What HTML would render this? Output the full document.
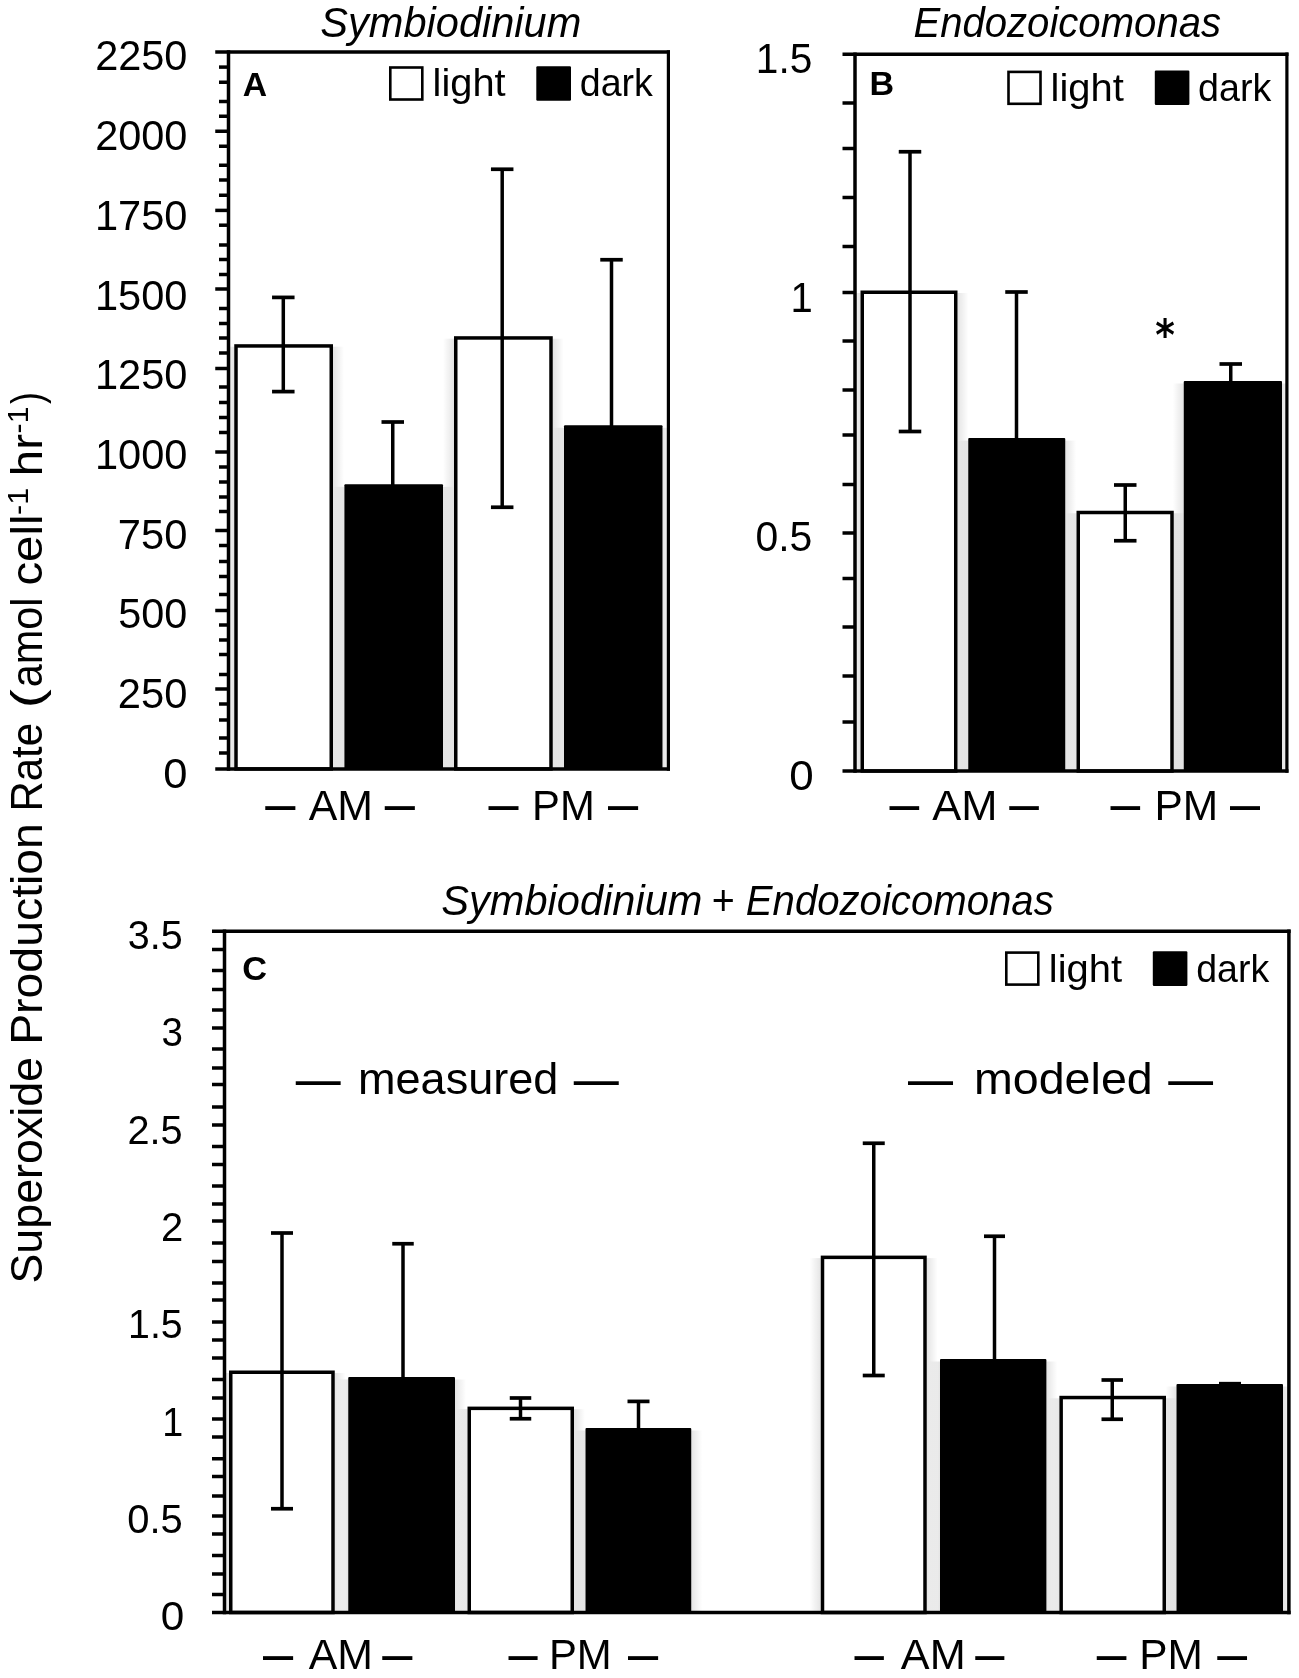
<!DOCTYPE html>
<html lang="en"><head><meta charset="utf-8"><title>Superoxide Production Rate</title>
<style>
html,body{margin:0;padding:0;background:#fff}
svg{display:block;will-change:transform;transform:translateZ(0)}
text{font-family:"Liberation Sans",sans-serif;fill:#000}
text.dj{font-family:"DejaVu Sans","Liberation Sans",sans-serif}
line{stroke:#000}
</style></head><body>
<svg width="1299" height="1678" viewBox="0 0 1299 1678">
<defs>
<linearGradient id="gr" x1="0" x2="1" y1="0" y2="0"><stop offset="0" stop-color="#000" stop-opacity="0.105"/><stop offset="1" stop-color="#000" stop-opacity="0"/></linearGradient>
<linearGradient id="gl" x1="1" x2="0" y1="0" y2="0"><stop offset="0" stop-color="#000" stop-opacity="0.105"/><stop offset="1" stop-color="#000" stop-opacity="0"/></linearGradient>
<clipPath id="clipA"><rect x="228.5" y="52" width="439.9" height="717"/></clipPath>
<clipPath id="clipB"><rect x="855" y="54" width="431.9" height="717"/></clipPath>
<clipPath id="clipC"><rect x="224.5" y="931" width="1064.4" height="681.5"/></clipPath>
</defs>
<rect width="1299" height="1678" fill="#fff"/>
<g transform="translate(42.2,1281.5) rotate(-90)">
<text x="-2.01" y="0.00" font-size="45" textLength="226.49" lengthAdjust="spacingAndGlyphs">Superoxide</text>
<text x="236.67" y="0.00" font-size="45" textLength="221.77" lengthAdjust="spacingAndGlyphs">Production</text>
<text x="470.04" y="0.00" font-size="45" textLength="88.54" lengthAdjust="spacingAndGlyphs">Rate</text>
<text x="573.24" y="0.00" font-size="45" textLength="18.98" lengthAdjust="spacingAndGlyphs">(</text>
<text x="594.14" y="0.00" font-size="45" textLength="89.86" lengthAdjust="spacingAndGlyphs">amol</text>
<text x="695.99" y="0.00" font-size="45" textLength="70.93" lengthAdjust="spacingAndGlyphs">cell</text>
<text x="766.62" y="-14.60" font-size="29" textLength="27.18" lengthAdjust="spacingAndGlyphs">-1</text>
<text x="805.30" y="0.00" font-size="45" textLength="42.19" lengthAdjust="spacingAndGlyphs">hr</text>
<text x="848.14" y="-14.60" font-size="29" textLength="26.84" lengthAdjust="spacingAndGlyphs">-1</text>
<text x="877.43" y="0.00" font-size="45" textLength="11.94" lengthAdjust="spacingAndGlyphs">)</text>
</g>
<g id="panelA">
<g clip-path="url(#clipA)"><rect x="223.25" y="346.70" width="11.0" height="422.20" fill="url(#gl)"/><rect x="333.00" y="346.70" width="11.0" height="422.20" fill="url(#gr)"/><rect x="333.40" y="486.80" width="11.0" height="282.10" fill="url(#gl)"/><rect x="443.00" y="486.80" width="11.0" height="282.10" fill="url(#gr)"/><rect x="443.00" y="338.70" width="11.0" height="430.20" fill="url(#gl)"/><rect x="552.75" y="338.70" width="11.0" height="430.20" fill="url(#gr)"/><rect x="553.00" y="427.75" width="11.0" height="341.15" fill="url(#gl)"/><rect x="662.50" y="427.75" width="11.0" height="341.15" fill="url(#gr)"/></g>
<rect x="236.00" y="345.95" width="95.25" height="422.95" fill="#fff" stroke="#000" stroke-width="3.5"/>
<rect x="344.40" y="484.30" width="98.60" height="284.60" rx="1" fill="#000"/>
<rect x="455.75" y="337.95" width="95.25" height="430.95" fill="#fff" stroke="#000" stroke-width="3.5"/>
<rect x="564.00" y="425.25" width="98.50" height="343.65" rx="1" fill="#000"/>
<line x1="283.30" y1="297.40" x2="283.30" y2="391.60" stroke-width="3.5"/>
<line x1="272.05" y1="297.40" x2="294.55" y2="297.40" stroke-width="3.7"/>
<line x1="272.05" y1="391.60" x2="294.55" y2="391.60" stroke-width="3.7"/>
<line x1="392.75" y1="422.00" x2="392.75" y2="486.00" stroke-width="3.5"/>
<line x1="381.50" y1="422.00" x2="404.00" y2="422.00" stroke-width="3.7"/>
<line x1="502.20" y1="169.25" x2="502.20" y2="507.25" stroke-width="3.5"/>
<line x1="490.95" y1="169.25" x2="513.45" y2="169.25" stroke-width="3.7"/>
<line x1="490.95" y1="507.25" x2="513.45" y2="507.25" stroke-width="3.7"/>
<line x1="611.50" y1="259.75" x2="611.50" y2="427.00" stroke-width="3.5"/>
<line x1="600.25" y1="259.75" x2="622.75" y2="259.75" stroke-width="3.7"/>
<line x1="228.50" y1="50.15" x2="228.50" y2="770.65" stroke-width="3.5"/>
<line x1="668.40" y1="50.15" x2="668.40" y2="770.65" stroke-width="3.2"/>
<line x1="215.25" y1="51.90" x2="670.00" y2="51.90" stroke-width="3.5"/>
<line x1="215.25" y1="768.90" x2="670.00" y2="768.90" stroke-width="3.5"/>
<line x1="215.25" y1="131.25" x2="228.50" y2="131.25" stroke-width="3.5"/>
<line x1="215.25" y1="210.40" x2="228.50" y2="210.40" stroke-width="3.5"/>
<line x1="215.25" y1="289.00" x2="228.50" y2="289.00" stroke-width="3.5"/>
<line x1="215.25" y1="368.50" x2="228.50" y2="368.50" stroke-width="3.5"/>
<line x1="215.25" y1="452.00" x2="228.50" y2="452.00" stroke-width="3.5"/>
<line x1="215.25" y1="530.50" x2="228.50" y2="530.50" stroke-width="3.5"/>
<line x1="215.25" y1="610.50" x2="228.50" y2="610.50" stroke-width="3.5"/>
<line x1="215.25" y1="689.00" x2="228.50" y2="689.00" stroke-width="3.5"/>
<line x1="219.00" y1="67.10" x2="228.50" y2="67.10" stroke-width="3.5"/>
<line x1="219.00" y1="82.25" x2="228.50" y2="82.25" stroke-width="3.5"/>
<line x1="219.00" y1="101.50" x2="228.50" y2="101.50" stroke-width="3.5"/>
<line x1="219.00" y1="116.25" x2="228.50" y2="116.25" stroke-width="3.5"/>
<line x1="219.00" y1="146.25" x2="228.50" y2="146.25" stroke-width="3.5"/>
<line x1="219.00" y1="165.25" x2="228.50" y2="165.25" stroke-width="3.5"/>
<line x1="219.00" y1="180.00" x2="228.50" y2="180.00" stroke-width="3.5"/>
<line x1="219.00" y1="195.25" x2="228.50" y2="195.25" stroke-width="3.5"/>
<line x1="219.00" y1="225.20" x2="228.50" y2="225.20" stroke-width="3.5"/>
<line x1="219.00" y1="245.00" x2="228.50" y2="245.00" stroke-width="3.5"/>
<line x1="219.00" y1="259.50" x2="228.50" y2="259.50" stroke-width="3.5"/>
<line x1="219.00" y1="274.50" x2="228.50" y2="274.50" stroke-width="3.5"/>
<line x1="219.00" y1="308.50" x2="228.50" y2="308.50" stroke-width="3.5"/>
<line x1="219.00" y1="323.50" x2="228.50" y2="323.50" stroke-width="3.5"/>
<line x1="219.00" y1="338.00" x2="228.50" y2="338.00" stroke-width="3.5"/>
<line x1="219.00" y1="353.00" x2="228.50" y2="353.00" stroke-width="3.5"/>
<line x1="219.00" y1="387.00" x2="228.50" y2="387.00" stroke-width="3.5"/>
<line x1="219.00" y1="402.50" x2="228.50" y2="402.50" stroke-width="3.5"/>
<line x1="219.00" y1="417.50" x2="228.50" y2="417.50" stroke-width="3.5"/>
<line x1="219.00" y1="432.50" x2="228.50" y2="432.50" stroke-width="3.5"/>
<line x1="219.00" y1="467.00" x2="228.50" y2="467.00" stroke-width="3.5"/>
<line x1="219.00" y1="482.00" x2="228.50" y2="482.00" stroke-width="3.5"/>
<line x1="219.00" y1="497.00" x2="228.50" y2="497.00" stroke-width="3.5"/>
<line x1="219.00" y1="511.50" x2="228.50" y2="511.50" stroke-width="3.5"/>
<line x1="219.00" y1="545.50" x2="228.50" y2="545.50" stroke-width="3.5"/>
<line x1="219.00" y1="561.50" x2="228.50" y2="561.50" stroke-width="3.5"/>
<line x1="219.00" y1="576.50" x2="228.50" y2="576.50" stroke-width="3.5"/>
<line x1="219.00" y1="594.50" x2="228.50" y2="594.50" stroke-width="3.5"/>
<line x1="219.00" y1="625.00" x2="228.50" y2="625.00" stroke-width="3.5"/>
<line x1="219.00" y1="640.00" x2="228.50" y2="640.00" stroke-width="3.5"/>
<line x1="219.00" y1="654.50" x2="228.50" y2="654.50" stroke-width="3.5"/>
<line x1="219.00" y1="674.50" x2="228.50" y2="674.50" stroke-width="3.5"/>
<line x1="219.00" y1="704.00" x2="228.50" y2="704.00" stroke-width="3.5"/>
<line x1="219.00" y1="720.00" x2="228.50" y2="720.00" stroke-width="3.5"/>
<line x1="219.00" y1="738.00" x2="228.50" y2="738.00" stroke-width="3.5"/>
<line x1="219.00" y1="753.00" x2="228.50" y2="753.00" stroke-width="3.5"/>
<text x="95.13" y="70.40" font-size="42.5" textLength="92.32" lengthAdjust="spacingAndGlyphs">2250</text>
<text x="95.13" y="150.10" font-size="42.5" textLength="92.32" lengthAdjust="spacingAndGlyphs">2000</text>
<text x="94.98" y="229.80" font-size="42.5" textLength="92.47" lengthAdjust="spacingAndGlyphs">1750</text>
<text x="94.98" y="309.50" font-size="42.5" textLength="92.47" lengthAdjust="spacingAndGlyphs">1500</text>
<text x="94.98" y="389.20" font-size="42.5" textLength="92.47" lengthAdjust="spacingAndGlyphs">1250</text>
<text x="94.98" y="468.90" font-size="42.5" textLength="92.47" lengthAdjust="spacingAndGlyphs">1000</text>
<text x="117.81" y="548.60" font-size="42.5" textLength="69.59" lengthAdjust="spacingAndGlyphs">750</text>
<text x="118.24" y="628.30" font-size="42.5" textLength="69.15" lengthAdjust="spacingAndGlyphs">500</text>
<text x="117.81" y="708.00" font-size="42.5" textLength="69.59" lengthAdjust="spacingAndGlyphs">250</text>
<text x="163.27" y="787.70" font-size="42.5" textLength="24.22" lengthAdjust="spacingAndGlyphs">0</text>
<text x="320.36" y="36.50" font-size="41.7" font-style="italic" textLength="260.93" lengthAdjust="spacingAndGlyphs">Symbiodinium</text>
<text x="242.66" y="95.60" font-size="33.5" font-weight="bold" textLength="24.36" lengthAdjust="spacingAndGlyphs">A</text>
<rect x="390.3" y="67.5" width="32.0" height="32.0" fill="#fff" stroke="#000" stroke-width="2.6"/>
<text x="432.61" y="96.30" font-size="38.7" textLength="73.07" lengthAdjust="spacingAndGlyphs">light</text>
<rect x="536.3" y="66.2" width="34.7" height="34.6" rx="1.2" fill="#000"/>
<text x="579.80" y="96.30" font-size="38.7" textLength="73.11" lengthAdjust="spacingAndGlyphs">dark</text>
<text x="265.20" y="823.16" font-size="57.78" textLength="30.10" lengthAdjust="spacingAndGlyphs">—</text>
<text x="308.79" y="819.90" font-size="42.0" textLength="64.23" lengthAdjust="spacingAndGlyphs">AM</text>
<text x="384.80" y="823.16" font-size="57.78" textLength="30.10" lengthAdjust="spacingAndGlyphs">—</text>
<text x="488.60" y="823.16" font-size="57.78" textLength="30.00" lengthAdjust="spacingAndGlyphs">—</text>
<text x="532.05" y="819.90" font-size="42.0" textLength="62.69" lengthAdjust="spacingAndGlyphs">PM</text>
<text x="608.00" y="823.16" font-size="57.78" textLength="30.10" lengthAdjust="spacingAndGlyphs">—</text>
</g>
<g id="panelB">
<g clip-path="url(#clipB)"><rect x="849.50" y="293.00" width="11.0" height="478.00" fill="url(#gl)"/><rect x="957.50" y="293.00" width="11.0" height="478.00" fill="url(#gr)"/><rect x="957.25" y="440.60" width="11.0" height="330.40" fill="url(#gl)"/><rect x="1065.25" y="440.60" width="11.0" height="330.40" fill="url(#gr)"/><rect x="1065.50" y="513.25" width="11.0" height="257.75" fill="url(#gl)"/><rect x="1173.75" y="513.25" width="11.0" height="257.75" fill="url(#gr)"/><rect x="1172.75" y="383.50" width="11.0" height="387.50" fill="url(#gl)"/><rect x="1282.00" y="383.50" width="11.0" height="387.50" fill="url(#gr)"/></g>
<rect x="862.25" y="292.25" width="93.50" height="478.75" fill="#fff" stroke="#000" stroke-width="3.5"/>
<rect x="968.25" y="438.10" width="97.00" height="332.90" rx="1" fill="#000"/>
<rect x="1078.25" y="512.50" width="93.75" height="258.50" fill="#fff" stroke="#000" stroke-width="3.5"/>
<rect x="1183.75" y="381.00" width="98.25" height="390.00" rx="1" fill="#000"/>
<line x1="910.00" y1="151.75" x2="910.00" y2="431.50" stroke-width="3.5"/>
<line x1="898.75" y1="151.75" x2="921.25" y2="151.75" stroke-width="3.7"/>
<line x1="898.75" y1="431.50" x2="921.25" y2="431.50" stroke-width="3.7"/>
<line x1="1016.50" y1="292.00" x2="1016.50" y2="440.00" stroke-width="3.5"/>
<line x1="1005.25" y1="292.00" x2="1027.75" y2="292.00" stroke-width="3.7"/>
<line x1="1125.25" y1="485.00" x2="1125.25" y2="540.75" stroke-width="3.5"/>
<line x1="1114.00" y1="485.00" x2="1136.50" y2="485.00" stroke-width="3.7"/>
<line x1="1114.00" y1="540.75" x2="1136.50" y2="540.75" stroke-width="3.7"/>
<line x1="1230.75" y1="364.00" x2="1230.75" y2="383.00" stroke-width="3.5"/>
<line x1="1219.50" y1="364.00" x2="1242.00" y2="364.00" stroke-width="3.7"/>
<line x1="855.00" y1="52.45" x2="855.00" y2="772.75" stroke-width="3.5"/>
<line x1="1286.90" y1="52.45" x2="1286.90" y2="772.75" stroke-width="3.2"/>
<line x1="842.50" y1="54.20" x2="1288.50" y2="54.20" stroke-width="3.5"/>
<line x1="842.50" y1="771.00" x2="1288.50" y2="771.00" stroke-width="3.5"/>
<line x1="842.50" y1="103.00" x2="855.00" y2="103.00" stroke-width="3.5"/>
<line x1="842.50" y1="148.50" x2="855.00" y2="148.50" stroke-width="3.5"/>
<line x1="842.50" y1="197.50" x2="855.00" y2="197.50" stroke-width="3.5"/>
<line x1="842.50" y1="246.50" x2="855.00" y2="246.50" stroke-width="3.5"/>
<line x1="842.50" y1="292.50" x2="855.00" y2="292.50" stroke-width="3.5"/>
<line x1="842.50" y1="341.00" x2="855.00" y2="341.00" stroke-width="3.5"/>
<line x1="842.50" y1="390.00" x2="855.00" y2="390.00" stroke-width="3.5"/>
<line x1="842.50" y1="435.00" x2="855.00" y2="435.00" stroke-width="3.5"/>
<line x1="842.50" y1="484.50" x2="855.00" y2="484.50" stroke-width="3.5"/>
<line x1="842.50" y1="533.00" x2="855.00" y2="533.00" stroke-width="3.5"/>
<line x1="842.50" y1="578.50" x2="855.00" y2="578.50" stroke-width="3.5"/>
<line x1="842.50" y1="627.00" x2="855.00" y2="627.00" stroke-width="3.5"/>
<line x1="842.50" y1="676.00" x2="855.00" y2="676.00" stroke-width="3.5"/>
<line x1="842.50" y1="722.00" x2="855.00" y2="722.00" stroke-width="3.5"/>
<text x="755.85" y="72.80" font-size="42.5" textLength="56.48" lengthAdjust="spacingAndGlyphs">1.5</text>
<text x="790.40" y="311.77" font-size="42.5" textLength="22.25" lengthAdjust="spacingAndGlyphs">1</text>
<text x="755.47" y="550.74" font-size="42.5" textLength="56.88" lengthAdjust="spacingAndGlyphs">0.5</text>
<text x="789.35" y="789.71" font-size="42.5" textLength="24.45" lengthAdjust="spacingAndGlyphs">0</text>
<text x="913.40" y="36.50" font-size="41.7" font-style="italic" textLength="307.67" lengthAdjust="spacingAndGlyphs">Endozoicomonas</text>
<text x="869.50" y="95.30" font-size="33.5" font-weight="bold" textLength="24.63" lengthAdjust="spacingAndGlyphs">B</text>
<rect x="1008.5" y="71.9" width="32.0" height="31.9" fill="#fff" stroke="#000" stroke-width="2.6"/>
<text x="1050.60" y="100.50" font-size="38.7" textLength="73.28" lengthAdjust="spacingAndGlyphs">light</text>
<rect x="1154.8" y="70.6" width="34.6" height="34.4" rx="1.2" fill="#000"/>
<text x="1198.10" y="100.50" font-size="38.7" textLength="73.21" lengthAdjust="spacingAndGlyphs">dark</text>
<text x="1155.25" y="350.00" font-size="42.15" font-weight="bold" class="dj" textLength="19.62" lengthAdjust="spacingAndGlyphs">*</text>
<text x="889.50" y="823.46" font-size="57.78" textLength="29.70" lengthAdjust="spacingAndGlyphs">—</text>
<text x="932.39" y="820.00" font-size="42.0" textLength="65.19" lengthAdjust="spacingAndGlyphs">AM</text>
<text x="1009.20" y="823.46" font-size="57.78" textLength="29.60" lengthAdjust="spacingAndGlyphs">—</text>
<text x="1110.60" y="823.46" font-size="57.78" textLength="29.60" lengthAdjust="spacingAndGlyphs">—</text>
<text x="1154.40" y="820.00" font-size="42.0" textLength="63.70" lengthAdjust="spacingAndGlyphs">PM</text>
<text x="1229.90" y="823.46" font-size="57.78" textLength="30.00" lengthAdjust="spacingAndGlyphs">—</text>
</g>
<g id="panelC">
<g clip-path="url(#clipC)"><rect x="218.00" y="1373.00" width="11.0" height="239.50" fill="url(#gl)"/><rect x="334.75" y="1373.00" width="11.0" height="239.50" fill="url(#gr)"/><rect x="337.25" y="1379.50" width="11.0" height="233.00" fill="url(#gl)"/><rect x="455.00" y="1379.50" width="11.0" height="233.00" fill="url(#gr)"/><rect x="456.50" y="1409.10" width="11.0" height="203.40" fill="url(#gl)"/><rect x="574.00" y="1409.10" width="11.0" height="203.40" fill="url(#gr)"/><rect x="574.50" y="1430.50" width="11.0" height="182.00" fill="url(#gl)"/><rect x="691.25" y="1430.50" width="11.0" height="182.00" fill="url(#gr)"/><rect x="809.75" y="1258.10" width="11.0" height="354.40" fill="url(#gl)"/><rect x="926.75" y="1258.10" width="11.0" height="354.40" fill="url(#gr)"/><rect x="929.00" y="1361.50" width="11.0" height="251.00" fill="url(#gl)"/><rect x="1046.40" y="1361.50" width="11.0" height="251.00" fill="url(#gr)"/><rect x="1048.40" y="1398.30" width="11.0" height="214.20" fill="url(#gl)"/><rect x="1166.00" y="1398.30" width="11.0" height="214.20" fill="url(#gr)"/><rect x="1165.50" y="1386.50" width="11.0" height="226.00" fill="url(#gl)"/><rect x="1283.00" y="1386.50" width="11.0" height="226.00" fill="url(#gr)"/></g>
<rect x="230.75" y="1372.25" width="102.25" height="240.25" fill="#fff" stroke="#000" stroke-width="3.5"/>
<rect x="348.25" y="1377.00" width="106.75" height="235.50" rx="1" fill="#000"/>
<rect x="469.25" y="1408.35" width="103.00" height="204.15" fill="#fff" stroke="#000" stroke-width="3.5"/>
<rect x="585.50" y="1428.00" width="105.75" height="184.50" rx="1" fill="#000"/>
<rect x="822.50" y="1257.35" width="102.50" height="355.15" fill="#fff" stroke="#000" stroke-width="3.5"/>
<rect x="940.00" y="1359.00" width="106.40" height="253.50" rx="1" fill="#000"/>
<rect x="1061.15" y="1397.55" width="103.10" height="214.95" fill="#fff" stroke="#000" stroke-width="3.5"/>
<rect x="1176.50" y="1384.00" width="106.50" height="228.50" rx="1" fill="#000"/>
<line x1="282.00" y1="1233.00" x2="282.00" y2="1508.75" stroke-width="3.5"/>
<line x1="271.00" y1="1233.00" x2="293.00" y2="1233.00" stroke-width="3.7"/>
<line x1="271.00" y1="1508.75" x2="293.00" y2="1508.75" stroke-width="3.7"/>
<line x1="403.00" y1="1243.75" x2="403.00" y2="1379.00" stroke-width="3.5"/>
<line x1="392.25" y1="1243.75" x2="413.75" y2="1243.75" stroke-width="3.7"/>
<line x1="520.50" y1="1398.00" x2="520.50" y2="1418.75" stroke-width="3.5"/>
<line x1="509.75" y1="1398.00" x2="531.25" y2="1398.00" stroke-width="3.7"/>
<line x1="509.75" y1="1418.75" x2="531.25" y2="1418.75" stroke-width="3.7"/>
<line x1="638.50" y1="1401.40" x2="638.50" y2="1430.00" stroke-width="3.5"/>
<line x1="627.50" y1="1401.40" x2="649.50" y2="1401.40" stroke-width="3.7"/>
<line x1="873.75" y1="1143.25" x2="873.75" y2="1375.50" stroke-width="3.5"/>
<line x1="862.75" y1="1143.25" x2="884.75" y2="1143.25" stroke-width="3.7"/>
<line x1="862.75" y1="1375.50" x2="884.75" y2="1375.50" stroke-width="3.7"/>
<line x1="994.50" y1="1236.25" x2="994.50" y2="1361.00" stroke-width="3.5"/>
<line x1="984.00" y1="1236.25" x2="1005.00" y2="1236.25" stroke-width="3.7"/>
<line x1="1112.25" y1="1380.00" x2="1112.25" y2="1419.25" stroke-width="3.5"/>
<line x1="1101.50" y1="1380.00" x2="1123.00" y2="1380.00" stroke-width="3.7"/>
<line x1="1101.50" y1="1419.25" x2="1123.00" y2="1419.25" stroke-width="3.7"/>
<line x1="1219.00" y1="1383.60" x2="1241.00" y2="1383.60" stroke-width="3.5"/>
<line x1="224.50" y1="929.50" x2="224.50" y2="1614.25" stroke-width="3.5"/>
<line x1="1288.90" y1="929.50" x2="1288.90" y2="1614.25" stroke-width="3.5"/>
<line x1="212.00" y1="931.25" x2="1290.65" y2="931.25" stroke-width="3.5"/>
<line x1="212.00" y1="1612.50" x2="1290.65" y2="1612.50" stroke-width="3.5"/>
<line x1="212.00" y1="949.50" x2="224.50" y2="949.50" stroke-width="3.5"/>
<line x1="212.00" y1="970.50" x2="224.50" y2="970.50" stroke-width="3.5"/>
<line x1="212.00" y1="989.50" x2="224.50" y2="989.50" stroke-width="3.5"/>
<line x1="212.00" y1="1010.00" x2="224.50" y2="1010.00" stroke-width="3.5"/>
<line x1="212.00" y1="1028.00" x2="224.50" y2="1028.00" stroke-width="3.5"/>
<line x1="212.00" y1="1049.00" x2="224.50" y2="1049.00" stroke-width="3.5"/>
<line x1="212.00" y1="1068.00" x2="224.50" y2="1068.00" stroke-width="3.5"/>
<line x1="212.00" y1="1084.50" x2="224.50" y2="1084.50" stroke-width="3.5"/>
<line x1="212.00" y1="1107.00" x2="224.50" y2="1107.00" stroke-width="3.5"/>
<line x1="212.00" y1="1125.00" x2="224.50" y2="1125.00" stroke-width="3.5"/>
<line x1="212.00" y1="1146.50" x2="224.50" y2="1146.50" stroke-width="3.5"/>
<line x1="212.00" y1="1164.50" x2="224.50" y2="1164.50" stroke-width="3.5"/>
<line x1="212.00" y1="1186.00" x2="224.50" y2="1186.00" stroke-width="3.5"/>
<line x1="212.00" y1="1204.00" x2="224.50" y2="1204.00" stroke-width="3.5"/>
<line x1="212.00" y1="1221.00" x2="224.50" y2="1221.00" stroke-width="3.5"/>
<line x1="212.00" y1="1243.00" x2="224.50" y2="1243.00" stroke-width="3.5"/>
<line x1="212.00" y1="1261.50" x2="224.50" y2="1261.50" stroke-width="3.5"/>
<line x1="212.00" y1="1283.00" x2="224.50" y2="1283.00" stroke-width="3.5"/>
<line x1="212.00" y1="1300.00" x2="224.50" y2="1300.00" stroke-width="3.5"/>
<line x1="212.00" y1="1322.00" x2="224.50" y2="1322.00" stroke-width="3.5"/>
<line x1="212.00" y1="1340.00" x2="224.50" y2="1340.00" stroke-width="3.5"/>
<line x1="212.00" y1="1358.00" x2="224.50" y2="1358.00" stroke-width="3.5"/>
<line x1="212.00" y1="1379.50" x2="224.50" y2="1379.50" stroke-width="3.5"/>
<line x1="212.00" y1="1398.00" x2="224.50" y2="1398.00" stroke-width="3.5"/>
<line x1="212.00" y1="1419.00" x2="224.50" y2="1419.00" stroke-width="3.5"/>
<line x1="212.00" y1="1437.00" x2="224.50" y2="1437.00" stroke-width="3.5"/>
<line x1="212.00" y1="1458.75" x2="224.50" y2="1458.75" stroke-width="3.5"/>
<line x1="212.00" y1="1476.50" x2="224.50" y2="1476.50" stroke-width="3.5"/>
<line x1="212.00" y1="1496.00" x2="224.50" y2="1496.00" stroke-width="3.5"/>
<line x1="212.00" y1="1516.00" x2="224.50" y2="1516.00" stroke-width="3.5"/>
<line x1="212.00" y1="1534.00" x2="224.50" y2="1534.00" stroke-width="3.5"/>
<line x1="212.00" y1="1555.50" x2="224.50" y2="1555.50" stroke-width="3.5"/>
<line x1="212.00" y1="1574.00" x2="224.50" y2="1574.00" stroke-width="3.5"/>
<line x1="212.00" y1="1594.50" x2="224.50" y2="1594.50" stroke-width="3.5"/>
<text x="127.82" y="949.10" font-size="40.2" textLength="54.87" lengthAdjust="spacingAndGlyphs">3.5</text>
<text x="161.56" y="1046.43" font-size="40.2" textLength="21.43" lengthAdjust="spacingAndGlyphs">3</text>
<text x="127.52" y="1143.76" font-size="40.2" textLength="55.18" lengthAdjust="spacingAndGlyphs">2.5</text>
<text x="161.00" y="1241.09" font-size="40.2" textLength="22.25" lengthAdjust="spacingAndGlyphs">2</text>
<text x="128.05" y="1338.42" font-size="40.2" textLength="54.63" lengthAdjust="spacingAndGlyphs">1.5</text>
<text x="162.17" y="1435.75" font-size="40.2" textLength="20.96" lengthAdjust="spacingAndGlyphs">1</text>
<text x="127.20" y="1533.08" font-size="40.2" textLength="55.50" lengthAdjust="spacingAndGlyphs">0.5</text>
<text x="160.71" y="1630.41" font-size="40.2" textLength="23.52" lengthAdjust="spacingAndGlyphs">0</text>
<text x="441.36" y="914.80" font-size="41.7" font-style="italic" textLength="261.03" lengthAdjust="spacingAndGlyphs">Symbiodinium</text>
<text x="711.87" y="914.80" font-size="41.7" textLength="23.06" lengthAdjust="spacingAndGlyphs">+</text>
<text x="745.80" y="914.80" font-size="41.7" font-style="italic" textLength="307.97" lengthAdjust="spacingAndGlyphs">Endozoicomonas</text>
<text x="242.38" y="979.80" font-size="33.5" font-weight="bold" textLength="24.81" lengthAdjust="spacingAndGlyphs">C</text>
<rect x="1006.3" y="952.6" width="32.0" height="32.0" fill="#fff" stroke="#000" stroke-width="2.6"/>
<text x="1048.80" y="981.70" font-size="38.7" textLength="73.28" lengthAdjust="spacingAndGlyphs">light</text>
<rect x="1152.8" y="951.3" width="34.6" height="34.6" rx="1.2" fill="#000"/>
<text x="1196.20" y="981.70" font-size="38.7" textLength="73.01" lengthAdjust="spacingAndGlyphs">dark</text>
<text x="295.70" y="1098.06" font-size="57.78" textLength="44.90" lengthAdjust="spacingAndGlyphs">—</text>
<text x="357.97" y="1093.60" font-size="44.5" textLength="200.43" lengthAdjust="spacingAndGlyphs">measured</text>
<text x="573.75" y="1098.06" font-size="57.78" textLength="45.00" lengthAdjust="spacingAndGlyphs">—</text>
<text x="908.00" y="1098.06" font-size="57.78" textLength="45.00" lengthAdjust="spacingAndGlyphs">—</text>
<text x="973.97" y="1093.60" font-size="44.5" textLength="178.74" lengthAdjust="spacingAndGlyphs">modeled</text>
<text x="1168.20" y="1098.06" font-size="57.78" textLength="44.80" lengthAdjust="spacingAndGlyphs">—</text>
<text x="262.90" y="1672.76" font-size="57.78" textLength="30.10" lengthAdjust="spacingAndGlyphs">—</text>
<text x="308.79" y="1669.30" font-size="42.0" textLength="64.23" lengthAdjust="spacingAndGlyphs">AM</text>
<text x="382.20" y="1672.76" font-size="57.78" textLength="30.10" lengthAdjust="spacingAndGlyphs">—</text>
<text x="508.50" y="1672.76" font-size="57.78" textLength="29.10" lengthAdjust="spacingAndGlyphs">—</text>
<text x="548.95" y="1669.30" font-size="42.0" textLength="62.80" lengthAdjust="spacingAndGlyphs">PM</text>
<text x="627.90" y="1672.76" font-size="57.78" textLength="30.10" lengthAdjust="spacingAndGlyphs">—</text>
<text x="854.60" y="1672.76" font-size="57.78" textLength="29.40" lengthAdjust="spacingAndGlyphs">—</text>
<text x="900.89" y="1669.30" font-size="42.0" textLength="64.76" lengthAdjust="spacingAndGlyphs">AM</text>
<text x="975.30" y="1672.76" font-size="57.78" textLength="29.10" lengthAdjust="spacingAndGlyphs">—</text>
<text x="1096.80" y="1672.76" font-size="57.78" textLength="29.70" lengthAdjust="spacingAndGlyphs">—</text>
<text x="1139.30" y="1669.30" font-size="42.0" textLength="63.59" lengthAdjust="spacingAndGlyphs">PM</text>
<text x="1217.20" y="1672.76" font-size="57.78" textLength="29.80" lengthAdjust="spacingAndGlyphs">—</text>
</g>
</svg>
</body></html>
